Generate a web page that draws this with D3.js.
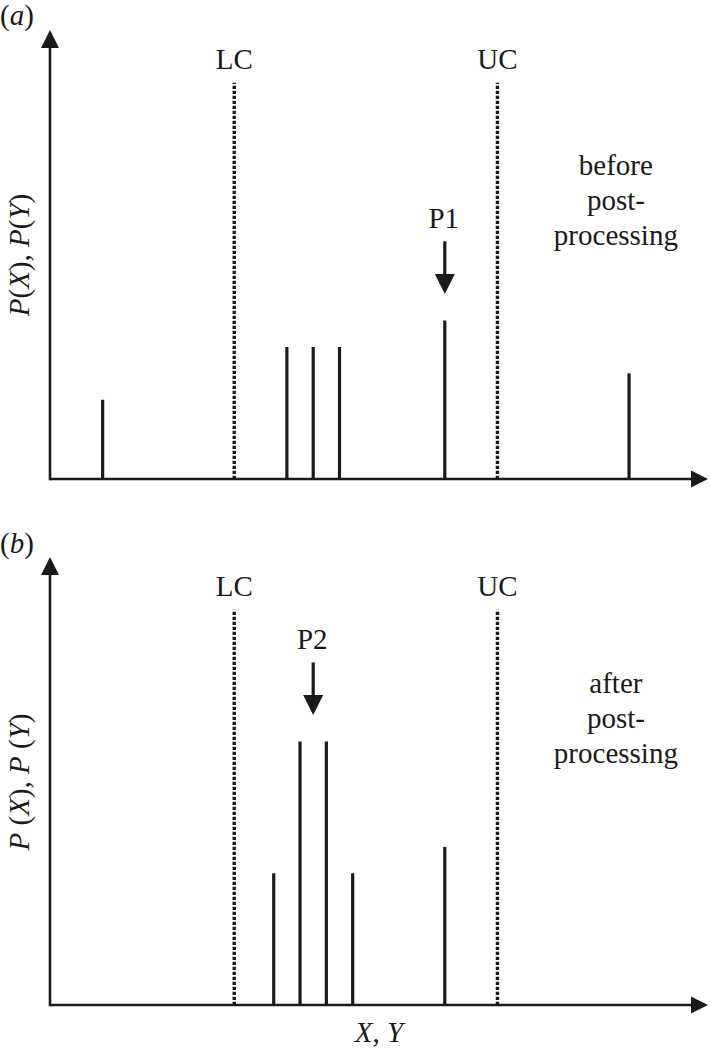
<!DOCTYPE html>
<html>
<head>
<meta charset="utf-8">
<script src="https://cdn.jsdelivr.net/npm/d3@7"></script>
<style>
  body { margin: 0; background: #fff; }
  svg { display: block; }
  text { font-family: "Liberation Serif", "Times New Roman", serif; fill: #1a1a1a; }
</style>
</head>
<body>
<div id="chart"></div>
<script>
// Data (x in bin units, heights in probability units)
const barXBefore = [2, 9, 10, 11, 15, 22];
const barHBefore = [3, 5, 5, 5, 6, 4];
const barXAfter = [8.5, 9.5, 10.5, 11.5, 15];
const barHAfter = [5, 10, 10, 5, 6];
const cutoffNames = ["LC", "UC"];
const cutoffX = [7, 17];
const cutoffTop = 15;
const peakNames = ["P1", "P2"];
const peakX = [15, 10];
const peakFrom = [9, 13];
const peakTo = [7, 11];
const sideLabels = [["before", "post-", "processing"], ["after", "post-", "processing"]];
const panelTags = ["a", "b"];
const xMax = 25, yMax = 17;

const width = 710, height = 1048;
const ink = "#1a1a1a";
const fs = 29;

const svg = d3.select("#chart")
    .append("svg")
    .attr("width", width)
    .attr("height", height);

// Shared x scale
const x = d3.scaleLinear().domain([0, xMax]).range([50, 708]);

function drawPanel(i, bottom, top, barX, barH, opts) {
    const y = d3.scaleLinear().domain([0, yMax]).range([bottom, top]);
    const g = svg.append("g");

    // panel tag (a) / (b)
    const tag = g.append("text")
        .attr("x", 0)
        .attr("y", opts.tagY)
        .attr("font-size", fs);
    tag.append("tspan").text("(");
    tag.append("tspan").attr("font-style", "italic").text(panelTags[i]);
    tag.append("tspan").text(")");

    // cutoff lines
    g.selectAll("line.cutoff")
        .data(cutoffX)
        .join("line")
        .attr("class", "cutoff")
        .attr("x1", d => x(d)).attr("x2", d => x(d))
        .attr("y1", y(0)).attr("y2", y(cutoffTop))
        .attr("stroke", ink)
        .attr("stroke-width", 3.4)
        .attr("stroke-dasharray", "3.2,1.8");

    g.selectAll("text.cutoff")
        .data(cutoffX)
        .join("text")
        .attr("class", "cutoff")
        .attr("x", d => x(d))
        .attr("y", y(cutoffTop) - 14)
        .attr("text-anchor", "middle")
        .attr("font-size", fs)
        .text((d, j) => cutoffNames[j]);

    // bars
    g.selectAll("line.bar")
        .data(barX)
        .join("line")
        .attr("class", "bar")
        .attr("x1", d => x(d)).attr("x2", d => x(d))
        .attr("y1", y(0)).attr("y2", (d, j) => y(barH[j]))
        .attr("stroke", ink)
        .attr("stroke-width", 3.2);

    // axes with arrowheads
    g.append("line")
        .attr("x1", x(0)).attr("x2", x(xMax) - 14)
        .attr("y1", y(0)).attr("y2", y(0))
        .attr("stroke", ink).attr("stroke-width", 2.6);
    g.append("path")
        .attr("d", `M${x(xMax)},${y(0)}L${x(xMax) - 17},${y(0) - 8.5}L${x(xMax) - 17},${y(0) + 8.5}Z`)
        .attr("fill", ink);
    g.append("line")
        .attr("x1", x(0)).attr("x2", x(0))
        .attr("y1", y(0) + 1.3).attr("y2", y(yMax) + 14)
        .attr("stroke", ink).attr("stroke-width", 2.6);
    g.append("path")
        .attr("d", `M${x(0)},${y(yMax)}L${x(0) - 9},${y(yMax) + 18}L${x(0) + 9},${y(yMax) + 18}Z`)
        .attr("fill", ink);

    // peak arrow
    const px = x(peakX[i]);
    g.append("line")
        .attr("x1", px).attr("x2", px)
        .attr("y1", y(peakFrom[i])).attr("y2", y(peakTo[i]) - 14)
        .attr("stroke", ink).attr("stroke-width", 3.2);
    g.append("path")
        .attr("d", `M${px},${y(peakTo[i])}L${px - 10},${y(peakTo[i]) - 20}L${px + 10},${y(peakTo[i]) - 20}Z`)
        .attr("fill", ink);
    g.append("text")
        .attr("x", px - 1)
        .attr("y", y(peakFrom[i]) - 13)
        .attr("text-anchor", "middle")
        .attr("font-size", fs)
        .text(peakNames[i]);

    // side label
    g.append("g")
        .selectAll("text")
        .data(sideLabels[i])
        .join("text")
        .attr("x", x(21.5))
        .attr("y", (d, j) => opts.sideY + j * 35)
        .attr("text-anchor", "middle")
        .attr("font-size", fs)
        .text(d => d);

    // y label
    const yl = g.append("text")
        .attr("transform", `translate(29,${opts.yLabelMid}) rotate(-90)`)
        .attr("text-anchor", "middle")
        .attr("font-size", fs);
    const gap = opts.spaced ? " " : "";
    [["P", true], [gap + "(", false], ["X", true], ["), ", false], ["P", true], [gap + "(", false], ["Y", true], [")", false]]
        .forEach(([t, it]) => yl.append("tspan").attr("font-style", it ? "italic" : null).text(t));
}

drawPanel(0, 479, 30, barXBefore, barHBefore, { tagY: 25, sideY: 175, yLabelMid: 255, spaced: false });
drawPanel(1, 1005, 557, barXAfter, barHAfter, { tagY: 553, sideY: 693, yLabelMid: 782, spaced: true });

// x label
const xl = svg.append("text")
    .attr("x", 379)
    .attr("y", 1042)
    .attr("text-anchor", "middle")
    .attr("font-size", fs);
xl.append("tspan").attr("font-style", "italic").text("X");
xl.append("tspan").text(", ");
xl.append("tspan").attr("font-style", "italic").text("Y");
</script>
</body>
</html>
